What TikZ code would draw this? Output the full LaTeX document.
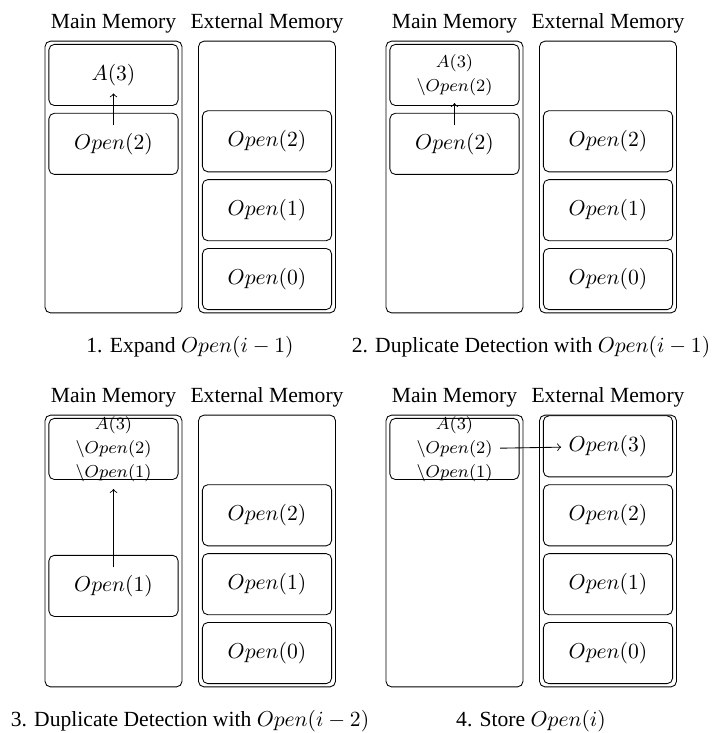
\documentclass[tikz,border=0pt]{standalone}
\usepackage[no-math]{fontspec}
\setmainfont{Liberation Serif}
\usetikzlibrary{positioning}

\begin{document}
\begin{tikzpicture}[x=0.463pt,y=-0.463pt,
                mem/.style={draw, rounded corners=2.5pt, minimum width=63.4pt, minimum height=125.8pt},
                slot/.style={draw, rounded corners=2.5pt, minimum width=59.8pt, minimum height=28.3pt},
                stack/.style={align=center, font=\fontsize{8.5}{11}\selectfont},
                caption/.style={anchor=base}]
                \useasboundingbox (0,0) rectangle (712,733);

                % 1. expand
                \node[mem] (m1) at (113.5,177) {};
                \node[mem] (e1) at (267,177) {};
                \node (t1m) [above=0pt of m1] {Main Memory};
                \node (t1e) [above=0pt of e1] {External Memory};
                \node[slot] (m1a) [below=1.5pt of m1.north] {};
                \node[slot] (m1b) [below=3.2pt of m1a] {};
                \node (a1) at (m1a) {$A(3)$};
                \node (o1) at (m1b) {$Open(2)$};
                \node[slot] (e1d) [above=1.5pt of e1.south] {$Open(0)$};
                \node[slot] (e1c) [above=3.2pt of e1d] {$Open(1)$};
                \node[slot] (e1b) [above=3.2pt of e1c] {$Open(2)$};
                \node[caption] (c1) at (190,352) {1. Expand $Open(i-1)$};

                % 2. duplicate detection
                \node[mem] (m2) at (454.5,177) {};
                \node[mem] (e2) at (608,177) {};
                \node (t2m) [above=0pt of m2] {Main Memory};
                \node (t2e) [above=0pt of e2] {External Memory};
                \node[slot] (m2a) [below=1.5pt of m2.north] {};
                \node[slot] (m2b) [below=3.2pt of m2a] {};
                \node[stack] (s2) at (m2a) {$A(3)$\\$\backslash Open(2)$};
                \node (o2) at (m2b) {$Open(2)$};
                \node[slot] (e2d) [above=1.5pt of e2.south] {$Open(0)$};
                \node[slot] (e2c) [above=3.2pt of e2d] {$Open(1)$};
                \node[slot] (e2b) [above=3.2pt of e2c] {$Open(2)$};
                \node[caption] (c2) at (531,352) {2. Duplicate Detection with $Open(i-1)$};

                % 3. duplicate detection
                \node[mem] (m3) at (113.5,551) {};
                \node[mem] (e3) at (267,551) {};
                \node (t3m) [above=0pt of m3] {Main Memory};
                \node (t3e) [above=0pt of e3] {External Memory};
                \node[slot] (m3a) [below=1.5pt of m3.north] {};
                \node[slot] (m3c) [below=34.7pt of m3a] {};
                \node[stack] (s3) at (m3a) {$A(3)$\\$\backslash Open(2)$\\$\backslash Open(1)$};
                \node (o3) at (m3c) {$Open(1)$};
                \node[slot] (e3d) [above=1.5pt of e3.south] {$Open(0)$};
                \node[slot] (e3c) [above=3.2pt of e3d] {$Open(1)$};
                \node[slot] (e3b) [above=3.2pt of e3c] {$Open(2)$};
                \node[caption] (c3) at (190,726) {3. Duplicate Detection with $Open(i-2)$};

                % 4. store
                \node[mem] (m4) at (454.5,551) {};
                \node[mem] (e4) at (608,551) {};
                \node (t4m) [above=0pt of m4] {Main Memory};
                \node (t4e) [above=0pt of e4] {External Memory};
                \node[slot] (m4a) [below=1.5pt of m4.north] {};
                \node[stack] (s4) at (m4a) {$A(3)$\\$\backslash Open(2)$\\$\backslash Open(1)$};
                \node[slot] (e4d) [above=1.5pt of e4.south] {$Open(0)$};
                \node[slot] (e4c) [above=3.2pt of e4d] {$Open(1)$};
                \node[slot] (e4b) [above=3.2pt of e4c] {$Open(2)$};
                \node[slot] (e4a) [above=3.2pt of e4b] {};
                \node (o4) at (e4a) {$Open(3)$};
                \node[caption] (c4) at (531,726) {4. Store $Open(i)$};

                \path[->]
                (o1) edge (a1)
                (o2) edge (s2)
                (o3) edge (s3)
                (s4) edge (o4)
                ;
            \end{tikzpicture}
\end{document}
